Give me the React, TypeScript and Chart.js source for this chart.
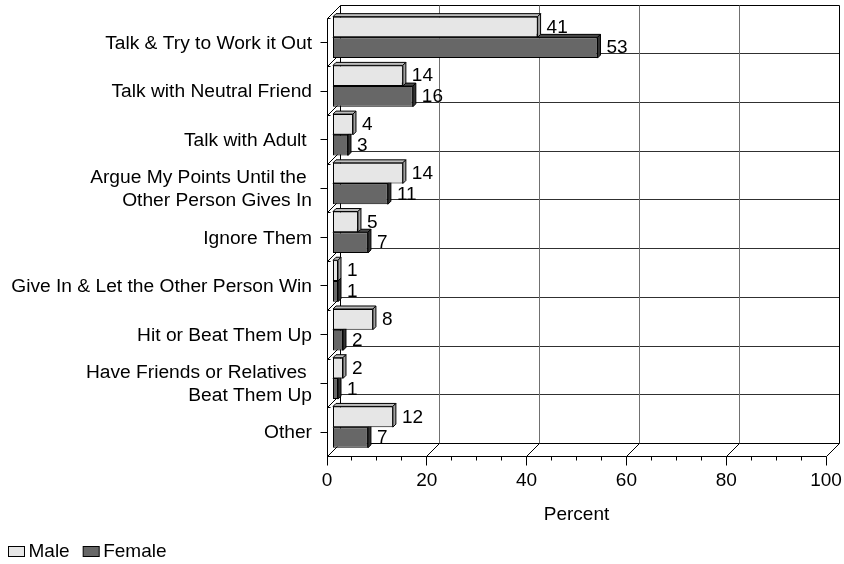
import React, { useEffect, useRef } from 'react';
import { Chart, registerables } from 'chart.js';

Chart.register(...registerables);

// ---------- data ----------
const categories: (string | string[])[] = [
  'Talk & Try to Work it Out',
  'Talk with Neutral Friend',
  'Talk with Adult ',
  ['Argue My Points Until the ', 'Other Person Gives In'],
  'Ignore Them',
  'Give In & Let the Other Person Win',
  'Hit or Beat Them Up',
  ['Have Friends or Relatives ', 'Beat Them Up'],
  'Other',
];
const seriesNames = ['Male', 'Female'];
const maleValues = [41, 14, 4, 14, 5, 1, 8, 2, 12];
const femaleValues = [53, 16, 3, 11, 7, 1, 2, 1, 7];
const xMin = 0;
const xMax = 100;
const xStep = 20;
const xMinorStep = 5;
const axisTitle = 'Percent';

// ---------- style ----------
const FONT_FAMILY = '"Liberation Sans", Arial, Helvetica, sans-serif';
const FONT_SIZE = 19;
const LABEL_FONT_SIZE = 19.2;
const frontColors = ['#e6e6e6', '#676767'];
const topColors = ['#bdbdbd', '#4a4a4a'];
const sideColors = ['#a0a0a0', '#333333'];
const D = 13; // wall depth
const BAR_DX = 6; // bar face offset
const BAR_DY = -5;
const BD = 3; // bar depth

const hp = (v: number) => Math.floor(v) + 0.5;

const threeD = {
  id: 'threeD',
  beforeDatasetsDraw(chart: any) {
    const { ctx, chartArea: a, scales } = chart;
    const xs = scales.x;
    const ys = scales.y;
    const L = a.left, R = a.right, T = a.top, B = a.bottom;
    const seg = (x1: number, y1: number, x2: number, y2: number, c: string) => {
      ctx.strokeStyle = c;
      ctx.beginPath();
      ctx.moveTo(x1, y1);
      ctx.lineTo(x2, y2);
      ctx.stroke();
    };
    ctx.save();
    ctx.lineWidth = 1;
    const n = categories.length;
    for (let k = 0; k <= n; k++) {
      const yb = ys.getPixelForValue(k - 0.5);
      seg(hp(L + D), hp(yb - D), hp(R + D), hp(yb - D), k === 0 || k === n ? '#000' : '#303030');
      seg(hp(L), hp(yb), hp(L + D), hp(yb - D), '#000');
    }
    xs.ticks.forEach((t: any) => {
      const px = xs.getPixelForValue(t.value);
      const edge = t.value === xMin || t.value === xMax;
      seg(hp(px + D), hp(T - D), hp(px + D), hp(B - D), edge ? '#000' : '#707070');
      seg(hp(px), hp(B), hp(px + D), hp(B - D), '#000');
    });
    // front axes
    seg(hp(L), hp(T), hp(L), hp(B), '#000');
    seg(hp(L), hp(B), hp(R), hp(B), '#000');
    // x ticks
    for (let v = xMin; v <= xMax; v += xMinorStep) {
      const px = hp(xs.getPixelForValue(v));
      const major = v % xStep === 0;
      seg(px, hp(B), px, hp(B) + (major ? 9 : 4), '#000');
    }
    // y ticks
    for (let k = 0; k < n; k++) {
      const yc = hp(ys.getPixelForValue(k));
      seg(hp(L) - 7, yc, hp(L), yc, '#000');
    }
    for (let k = 0; k <= n; k++) {
      const yb = hp(ys.getPixelForValue(k - 0.5));
      seg(hp(L), yb, hp(L) + 3, yb, '#000');
    }
    ctx.restore();
    ctx.save();
    ctx.translate(BAR_DX, BAR_DY);
  },
  afterDatasetDraw(chart: any, args: any) {
    const { ctx } = chart;
    const i = args.index;
    ctx.save();
    ctx.lineWidth = 1;
    ctx.strokeStyle = '#000';
    args.meta.data.forEach((bar: any) => {
      const { x, y, base, height } = bar.getProps(['x', 'y', 'base', 'height'], true);
      const top = y - height / 2;
      const bottom = y + height / 2;
      const x0 = Math.min(x, base);
      const x1 = Math.max(x, base);
      ctx.beginPath();
      ctx.moveTo(x0, top);
      ctx.lineTo(x0 + BD, top - BD);
      ctx.lineTo(x1 + BD, top - BD);
      ctx.lineTo(x1, top);
      ctx.closePath();
      ctx.fillStyle = topColors[i];
      ctx.fill();
      ctx.stroke();
      ctx.beginPath();
      ctx.moveTo(x1, top);
      ctx.lineTo(x1 + BD, top - BD);
      ctx.lineTo(x1 + BD, bottom - BD);
      ctx.lineTo(x1, bottom);
      ctx.closePath();
      ctx.fillStyle = sideColors[i];
      ctx.fill();
      ctx.stroke();
    });
    ctx.restore();
  },
  afterDatasetsDraw(chart: any) {
    const { ctx } = chart;
    ctx.save();
    ctx.font = `${FONT_SIZE}px ${FONT_FAMILY}`;
    ctx.fillStyle = '#000';
    ctx.textAlign = 'left';
    ctx.textBaseline = 'middle';
    chart.data.datasets.forEach((ds: any, i: number) => {
      const meta = chart.getDatasetMeta(i);
      meta.data.forEach((bar: any, j: number) => {
        const { x, y } = bar.getProps(['x', 'y'], true);
        ctx.fillText(String(ds.data[j]), x + BD + 6, y + 0.5);
      });
    });
    ctx.restore();
    ctx.restore(); // undo translate
  },
  afterDraw(chart: any) {
    const { ctx } = chart;
    ctx.save();
    ctx.font = `${FONT_SIZE}px ${FONT_FAMILY}`;
    ctx.textBaseline = 'middle';
    ctx.textAlign = 'left';
    ctx.lineWidth = 1;
    let x = 8.5;
    const y = 551.5;
    chart.data.datasets.forEach((ds: any, i: number) => {
      ctx.fillStyle = frontColors[i];
      ctx.fillRect(x, y - 5, 16, 10);
      ctx.strokeStyle = '#000';
      ctx.strokeRect(x, y - 5, 16, 10);
      ctx.fillStyle = '#000';
      ctx.fillText(ds.label, x + 20, y + 0.5);
      x += 20 + ctx.measureText(ds.label).width + 13.5;
    });
    ctx.restore();
  },
};

export default function App() {
  const ref = useRef<HTMLCanvasElement>(null);
  useEffect(() => {
    const font = { family: FONT_FAMILY, size: FONT_SIZE };
    const labelFont = { family: FONT_FAMILY, size: LABEL_FONT_SIZE };
    Chart.defaults.font.family = FONT_FAMILY;
    const chart = new Chart(ref.current as HTMLCanvasElement, {
      type: 'bar',
      data: {
        labels: categories as any,
        datasets: [
          {
            label: seriesNames[0],
            data: maleValues,
            backgroundColor: frontColors[0],
            borderColor: '#000',
            borderWidth: 1,
            borderSkipped: false,
            categoryPercentage: 0.85,
            barPercentage: 1,
          },
          {
            label: seriesNames[1],
            data: femaleValues,
            backgroundColor: frontColors[1],
            borderColor: '#000',
            borderWidth: 1,
            borderSkipped: false,
            categoryPercentage: 0.85,
            barPercentage: 1,
          },
        ],
      },
      options: {
        indexAxis: 'y',
        responsive: false,
        animation: false,
        devicePixelRatio: 1,
        events: [],
        layout: { padding: { top: 18, right: 18, bottom: 0, left: 0 } },
        plugins: { legend: { display: false }, tooltip: { enabled: false } },
        scales: {
          x: {
            type: 'linear',
            min: xMin,
            max: xMax,
            ticks: { stepSize: xStep, color: '#000', font, padding: 13 },
            grid: { display: false, drawTicks: false },
            border: { display: false },
            title: { display: true, text: axisTitle, color: '#000', font, padding: { top: 0, bottom: 38 } },
            afterFit: (s: any) => {
              s.height = 107.5;
              s.paddingLeft = 0;
              s.paddingRight = 0;
            },
          },
          y: {
            type: 'category',
            ticks: { color: '#000', font: labelFont, padding: 15, labelOffset: 1, autoSkip: false },
            grid: { display: false, drawTicks: false },
            border: { display: false },
            afterFit: (s: any) => {
              s.width = 327;
              s.paddingTop = 0;
              s.paddingBottom = 0;
            },
          },
        },
      } as any,
      plugins: [threeD],
    });
    return () => chart.destroy();
  }, []);
  return (
    <div style={{ position: 'fixed', left: 0, top: 0, width: 844, height: 564, background: '#fff' }}>
      <canvas ref={ref} width={844} height={564} style={{ display: 'block', width: 844, height: 564 }} />
    </div>
  );
}
